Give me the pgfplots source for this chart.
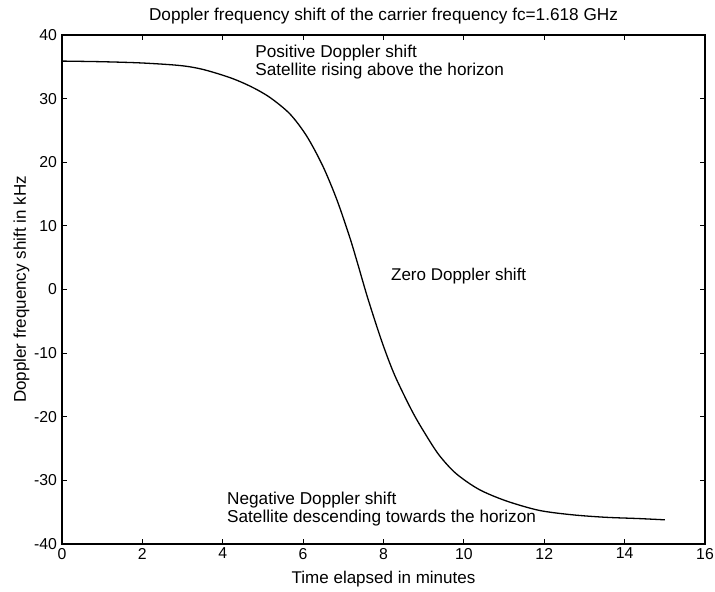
\documentclass[border=0pt]{standalone}
\usepackage{fontspec}
\setmainfont{Liberation Sans}
\usepackage{pgfplots}
\pgfplotsset{compat=1.18}
\begin{document}
\begin{tikzpicture}
\begin{axis}[
  scale only axis,
  width=321.5pt, height=254.5pt,
  xmin=0, xmax=16, ymin=-40, ymax=40,
  xtick={0,2,...,16}, ytick={-40,-30,...,40},
  tick align=inside,
  major tick length=2.5pt,
  axis line style={line width=0.7pt},
  every tick/.style={black, line width=0.6pt},
  /pgf/number format/assume math mode=true,
  tick label style={font=\fontsize{7.9}{8}\selectfont},
  title={Doppler frequency shift of the carrier frequency fc=1.618 GHz},
  title style={font=\fontsize{8.6}{9}\selectfont, yshift=-4pt},
  xlabel={Time elapsed in minutes},
  ylabel={Doppler frequency shift in kHz},
  label style={font=\fontsize{8.5}{9}\selectfont},
  xlabel style={yshift=1pt},
  ylabel style={yshift=-4.5pt},
  xticklabel style={yshift=1.5pt},
  yticklabel style={xshift=1pt},
]
\addplot[black, line width=0.65pt, smooth, tension=0.5] coordinates {
(0,35.9) (1,35.8) (2,35.6) (2.94,35.2) (3.5,34.6) (4.18,33.3) (4.7,31.9) (5.17,30.2)
(5.67,27.6) (6.09,24.1) (6.49,19.4) (6.84,14.1) (7.16,8.2) (7.36,4.0) (7.61,-1.4)
(7.96,-8.2) (8.28,-13.5) (8.71,-19.1) (9.03,-22.6) (9.38,-26.0) (9.8,-28.9)
(10.37,-31.4) (11.04,-33.2) (11.86,-34.7) (12.68,-35.4) (13.52,-35.8) (14.34,-36.0) (15.0,-36.2)
};
\node[anchor=west, align=left, font=\fontsize{8.6}{7.8}\selectfont, inner sep=0pt] at (axis cs:4.8,35.8) {Positive Doppler shift\\Satellite rising above the horizon};
\node[anchor=west, font=\fontsize{8.5}{9}\selectfont, inner sep=0pt] at (axis cs:8.18,2.1) {Zero Doppler shift};
\node[anchor=west, align=left, font=\fontsize{8.6}{7.8}\selectfont, inner sep=0pt] at (axis cs:4.1,-34.55) {Negative Doppler shift\\Satellite descending towards the horizon};
\end{axis}
\pgfresetboundingbox
\useasboundingbox ([xshift=-31pt,yshift=-24pt]current axis.south west) rectangle ([xshift=5pt,yshift=17.5pt]current axis.north east);
\end{tikzpicture}
\end{document}
